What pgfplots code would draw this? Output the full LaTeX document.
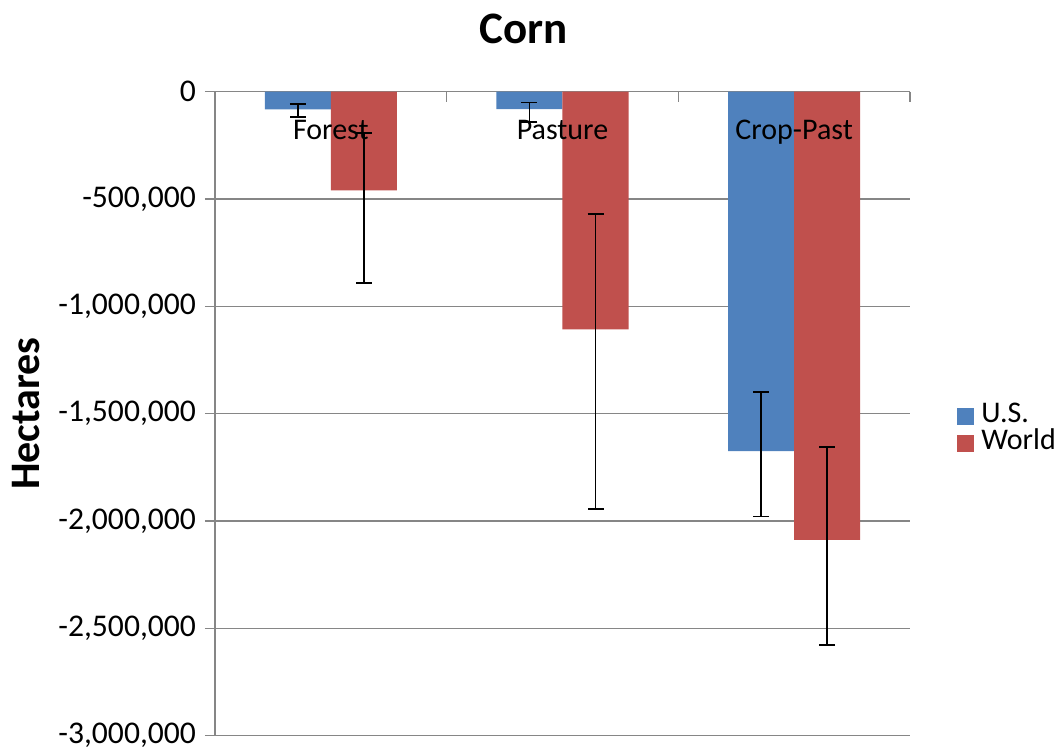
\documentclass[border=0pt]{standalone}
\usepackage{fontspec}
\setmainfont{Carlito}
\usepackage{pgfplots}
\pgfplotsset{compat=1.18}
\definecolor{usblue}{HTML}{4F81BD}
\definecolor{wred}{HTML}{C0504D}
\definecolor{gridgray}{HTML}{868686}
\begin{document}
\begin{tikzpicture}
\begin{axis}[
  set layers,
  scale only axis, width=347.5pt, height=322pt,
  ymin=-3000000, ymax=0,
  xmin=-0.5, xmax=2.5,
  ybar=0pt, bar width=0.285,
  axis y line*=left, axis x line*=top,
  axis line style={gridgray, line width=0.7pt},
  ytick={-3000000,-2500000,-2000000,-1500000,-1000000,-500000,0},
  ymajorgrids, grid style={gridgray, line width=0.7pt},
  tick align=outside,
  major tick length=5pt, minor tick length=5pt,
  tick style={gridgray, line width=0.7pt},
  xtick={0,1,2}, xticklabels={Forest,Pasture,Crop-Past},
  major x tick style={draw=none},
  minor xtick={0.5,1.5,2.5},
  minor x tick style={yshift=-5pt},
  /pgf/number format/.cd, fixed, 1000 sep={,}, precision=0, assume math mode=true,
  /pgfplots/.cd,
  scaled y ticks=false,
  xticklabel style={/pgfplots/on layer=axis foreground, font=\fontsize{15}{18}\selectfont, text=black, anchor=base, yshift=-28.7pt},
  yticklabel style={font=\fontsize{15.8}{19}\selectfont, text=black, anchor=east, xshift=-1pt},
  every axis title/.style={/pgfplots/on layer=axis descriptions, at={(0.5,1)}, anchor=base, yshift=24.3pt, xshift=-19.25pt, font=\bfseries\fontsize{22.5}{27}\selectfont},
  title={Corn},
  ylabel style={at={(axis description cs:-0.2518,0.5)}, anchor=base, font=\bfseries\fontsize{21}{25}\selectfont},
  ylabel={Hectares},
  legend style={at={(1,0.5)}, anchor=west, xshift=23.5pt, yshift=-8pt, draw=none, fill=none,
    font=\fontsize{15}{18}\selectfont, inner sep=0pt, column sep=3.5pt, row sep=0pt,
    nodes={inner sep=0pt, text height=10pt, text depth=3.5pt}},
  legend cell align=left,
  legend image code/.code={\fill[#1] (0pt,-4.25pt) rectangle (8.5pt,4.25pt);},
]
\addplot[fill=usblue, draw=none,
  error bars/.cd, y dir=both, y explicit,
  error bar style={black, line width=0.75pt},
  error mark options={rotate=90, black, mark size=4pt, line width=0.75pt}]
  coordinates {
  (0,-82000) += (0,25000) -= (0,35000)
  (1,-81000) += (0,30000) -= (0,60000)
  (2,-1674000) += (0,276000) -= (0,304000)
  };
\addplot[fill=wred, draw=none,
  error bars/.cd, y dir=both, y explicit,
  error bar style={black, line width=0.75pt},
  error mark options={rotate=90, black, mark size=4pt, line width=0.75pt}]
  coordinates {
  (0,-460000) += (0,268000) -= (0,431000)
  (1,-1107000) += (0,538000) -= (0,837000)
  (2,-2088000) += (0,432000) -= (0,490000)
  };
\legend{U.S., World}
\end{axis}
\path (-107.5pt,-8pt) rectangle (421pt,367.85pt);
\end{tikzpicture}
\end{document}
